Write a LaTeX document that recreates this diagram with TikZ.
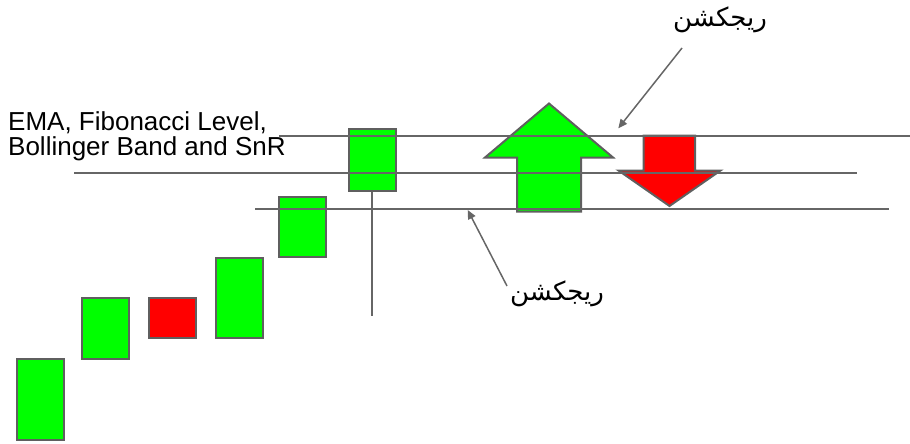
\documentclass[tikz,border=0pt]{standalone}
\usepackage{fontspec}
\setmainfont{Liberation Sans}
\newfontfamily\arabicfont[Script=Arabic]{DejaVu Sans}
\TeXXeTstate=1
\usetikzlibrary{arrows.meta,calc}
\definecolor{candleGreen}{HTML}{00FF00}
\definecolor{candleRed}{HTML}{FF0000}
\definecolor{edgeGray}{HTML}{5F5F5F}
\definecolor{levelGray}{HTML}{666666}
\def\candleW{47}

\begin{document}
\begin{tikzpicture}[x=1pt,y=-1pt]
      \tikzstyle{every node} = [inner sep=0pt]
      \tikzstyle{bullCandle} = [draw=edgeGray, line width=2pt, fill=candleGreen, rectangle, minimum width=\candleW pt]
      \tikzstyle{bearCandle} = [bullCandle, fill=candleRed]
      \tikzstyle{bigArrow} = [draw=edgeGray, line width=2pt, line join=miter]
      \tikzstyle{levelLine} = [draw=levelGray, line width=1.8pt]
      \tikzstyle{labelArrow} = [draw=levelGray, line width=1.5pt, -{Triangle[length=9pt,width=8pt]}]
      \tikzstyle{rejLabel} = [anchor=base, font=\arabicfont\fontsize{26}{30}\selectfont]
      \useasboundingbox (0,0) rectangle (910,444);
      % Candles
      \node[bullCandle, minimum height=81pt](candleA) at (40,399.5){};
      \node[bullCandle, minimum height=61pt](candleB) at (105,328){};
      \node[bearCandle, minimum height=40pt](candleC) at (172,317.5){};
      \node[bullCandle, minimum height=80pt](candleD) at (239,297.5){};
      \node[bullCandle, minimum height=60pt](candleE) at (302.5,226.5){};
      \node[bullCandle, minimum height=62pt](candleF) at (372,159.5){};
      \coordinate (wickEnd) at (372,316);
      \draw[draw=levelGray, line width=1.8pt]
      (candleF.south) -- (wickEnd);
      % Big arrows
      \filldraw[bigArrow, fill=candleGreen]
      (549,103.5) -- (613,157.5) -- (581,157.5) -- (581,211.5) -- (517,211.5) -- (517,157.5) -- (485,157.5) -- cycle;
      \filldraw[bigArrow, fill=candleRed]
      (643.5,135.5) -- (695,135.5) -- (695,170.5) -- (720.5,170.5) -- (669.5,206) -- (618.5,170.5) -- (643.5,170.5) -- cycle;
      % Levels
      \draw[levelLine] (279,135.7) -- (910,135.7);
      \draw[levelLine] (74,173.3) -- (857,173.3);
      \draw[levelLine] (255,209.3) -- (889,209.3);
      \node[anchor=base west, align=left, font=\fontsize{26}{25}\selectfont](levelText) at (8,155){EMA, Fibonacci Level,\\Bollinger Band and SnR};
      % Labels
      \node[rejLabel](rejTop) at (720,27){\beginR ریجکشن\endR};
      \node[rejLabel](rejBottom) at (557,300){\beginR ریجکشن\endR};
      \coordinate (hitTop) at (618.3,128.3);
      \coordinate (hitBottom) at (467.7,210);
      \draw[labelArrow]
      ($(rejTop.base)+(-38,21)$) -- (hitTop);
      \draw[labelArrow]
      ($(rejBottom.base)+(-50,-14)$) -- (hitBottom);
\end{tikzpicture}
\end{document}
